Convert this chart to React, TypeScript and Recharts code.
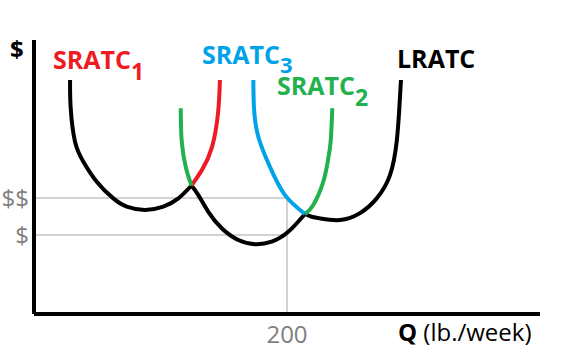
import { ComposedChart, Line, XAxis, YAxis, ReferenceLine, Customized } from 'recharts'

// cost curves (Q on x, cost on y)
const sratc1Left = [
  { x: 28.5, y: 85.4 },
  { x: 29.0, y: 75.1 },
  { x: 32.4, y: 62.9 },
  { x: 39.0, y: 55.6 },
  { x: 49.6, y: 48.3 },
  { x: 62.7, y: 42.2 },
  { x: 73.3, y: 39.2 },
  { x: 87.7, y: 38.0 },
  { x: 102.2, y: 39.2 },
  { x: 114.1, y: 42.2 },
  { x: 124.5, y: 46.9 },
]
const sratc1Right = [
  { x: 124.5, y: 46.9 },
  { x: 132.8, y: 52.6 },
  { x: 140.7, y: 60.9 },
  { x: 145.5, y: 73.4 },
  { x: 147.0, y: 85.4 },
]
const sratc2Left = [
  { x: 116.0, y: 75.1 },
  { x: 116.8, y: 62.9 },
  { x: 120.2, y: 53.2 },
  { x: 124.5, y: 46.9 },
]
const sratc2Mid = [
  { x: 124.5, y: 46.9 },
  { x: 129.9, y: 43.4 },
  { x: 137.8, y: 37.3 },
  { x: 148.4, y: 31.3 },
  { x: 161.5, y: 27.0 },
  { x: 174.7, y: 25.5 },
  { x: 187.9, y: 26.4 },
  { x: 201.0, y: 30.0 },
  { x: 214.2, y: 36.5 },
]
const sratc2Right = [
  { x: 214.2, y: 36.5 },
  { x: 220.8, y: 39.8 },
  { x: 228.7, y: 48.3 },
  { x: 232.4, y: 56.2 },
  { x: 234.5, y: 62.9 },
  { x: 235.8, y: 75.1 },
]
const sratc3Left = [
  { x: 173.4, y: 85.4 },
  { x: 173.9, y: 75.2 },
  { x: 177.3, y: 64.7 },
  { x: 186.6, y: 53.6 },
  { x: 198.4, y: 43.4 },
  { x: 214.2, y: 36.5 },
]
const sratc3Right = [
  { x: 214.2, y: 36.5 },
  { x: 219.5, y: 35.5 },
  { x: 226.1, y: 34.9 },
  { x: 241.9, y: 34.3 },
  { x: 257.7, y: 36.8 },
  { x: 270.9, y: 42.2 },
  { x: 281.4, y: 50.7 },
  { x: 286.7, y: 62.9 },
  { x: 288.8, y: 75.1 },
  { x: 290.1, y: 85.4 },
]

const xTicks = [200]
const yTicks = [28.8, 42.3]
const yTickLabels = ['$', '$$']
const qMark = 200

const RED = '#ed1c24'
const GREEN = '#22b14c'
const BLUE = '#00a2e8'
const GRAY = '#7f7f7f'
const FONT = '"Open Sans", sans-serif'

function Labels() {
  return (
    <g fontFamily={FONT} fontWeight={700}>
      <text x={10} y={58} fontSize={24} fill="#000">$</text>
      <text x={53} y={69} fontSize={25} fill={RED}>
        SRATC<tspan dy={11} fontSize={23}>1</tspan>
      </text>
      <text x={202} y={64} fontSize={25} fill={BLUE}>
        SRATC<tspan dy={9} fontSize={22}>3</tspan>
      </text>
      <text x={277} y={95} fontSize={25} fill={GREEN}>
        SRATC<tspan dy={11} fontSize={23}>2</tspan>
      </text>
      <text x={397} y={68} fontSize={25} fill="#000">LRATC</text>
      <text x={398} y={341} fontSize={24} fill="#000">
        Q<tspan fontWeight={400}> (lb./week)</tspan>
      </text>
    </g>
  )
}

export default function App() {
  const line = (data: { x: number; y: number }[], color: string, key: string) => (
    <Line
      key={key}
      data={data}
      dataKey="y"
      type="natural"
      stroke={color}
      strokeWidth={4}
      dot={false}
      activeDot={false}
      isAnimationActive={false}
    />
  )

  return (
    <div style={{ position: 'absolute', left: 0, top: 0 }}>
      <ComposedChart width={562} height={362} margin={{ top: 40, right: 22, bottom: 0, left: 0 }}>
        <XAxis
          dataKey="x"
          type="number"
          domain={[0, 400]}
          ticks={xTicks}
          height={48}
          tickSize={0}
          tickMargin={12}
          axisLine={{ stroke: '#000', strokeWidth: 4 }}
          tickLine={false}
          tick={{ fill: GRAY, fontSize: 24, fontFamily: FONT }}
          allowDataOverflow
        />
        <YAxis
          type="number"
          domain={[0, 100]}
          ticks={yTicks}
          width={34}
          tickSize={0}
          tickMargin={5}
          tickFormatter={(v: number) => yTickLabels[yTicks.indexOf(v)]}
          axisLine={{ stroke: '#000', strokeWidth: 4 }}
          tickLine={false}
          tick={{ fill: GRAY, fontSize: 24, fontFamily: FONT }}
          allowDataOverflow
        />
        <ReferenceLine segment={[{ x: 0, y: yTicks[1] }, { x: qMark, y: yTicks[1] }]} stroke="#c3c3c3" strokeWidth={1.5} />
        <ReferenceLine segment={[{ x: 0, y: yTicks[0] }, { x: qMark, y: yTicks[0] }]} stroke="#c3c3c3" strokeWidth={1.5} />
        <ReferenceLine segment={[{ x: qMark, y: 0 }, { x: qMark, y: yTicks[1] }]} stroke="#c3c3c3" strokeWidth={1.5} />
        {line(sratc1Left, '#000', 'a')}
        {line(sratc2Mid, '#000', 'b')}
        {line(sratc3Right, '#000', 'c')}
        {line(sratc1Right, RED, 'd')}
        {line(sratc2Left, GREEN, 'e')}
        {line(sratc2Right, GREEN, 'f')}
        {line(sratc3Left, BLUE, 'g')}
        <Customized component={<Labels />} />
      </ComposedChart>
    </div>
  )
}
